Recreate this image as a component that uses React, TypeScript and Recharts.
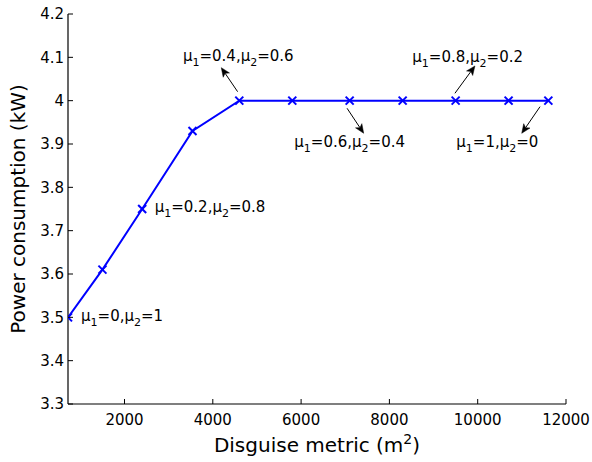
import React from 'react';
import { LineChart, Line, XAxis, YAxis, LabelList } from 'recharts';

const disguiseMetric = [720, 1500, 2400, 3540, 4600, 5800, 7100, 8300, 9500, 10700, 11600];
const powerConsumption = [3.5, 3.61, 3.75, 3.93, 4.0, 4.0, 4.0, 4.0, 4.0, 4.0, 4.0];
const xTicks = [2000, 4000, 6000, 8000, 10000, 12000];
const yTicks = [3.3, 3.4, 3.5, 3.6, 3.7, 3.8, 3.9, 4.0, 4.1, 4.2];
const annotatedPoints = [0, 2, 4, 6, 8, 10];
const mu1Values = ['0', '0.2', '0.4', '0.6', '0.8', '1'];
const mu2Values = ['1', '0.8', '0.6', '0.4', '0.2', '0'];

// style: label offsets relative to the annotated point (pixels)
const annotationLayout = [
  { dx: 13, dy: 3.5, anchor: 'start', arrow: null },
  { dx: 12.5, dy: 3, anchor: 'start', arrow: null },
  { dx: -1, dy: -40, anchor: 'middle', arrow: [-1.7, -9, -18, -33] },
  { dx: 0, dy: 46, anchor: 'middle', arrow: [-2.6, 7.6, 14, 32.6] },
  { dx: 12, dy: -39, anchor: 'middle', arrow: [-0.7, -7.4, 19.3, -34.7] },
  { dx: -51, dy: 46, anchor: 'middle', arrow: [-8.3, 6, -26.6, 32.6] },
];

const data = disguiseMetric.map((x, i) => ({
  x,
  y: powerConsumption[i],
  ann: annotatedPoints.indexOf(i),
}));

const FONT = '"DejaVu Sans", Arial, sans-serif';

const fmtY = (v: number) => String(Number(v.toFixed(1)));

const BottomTick = (p: any) => (
  <g>
    <line x1={p.x} y1={p.y} x2={p.x} y2={p.y - 5} stroke="#000" strokeWidth={1} />
    <text x={p.x} y={p.y + 21} textAnchor="middle" fontFamily={FONT} fontSize={15} fill="#000">
      {p.payload.value}
    </text>
  </g>
);
const TopTick = (p: any) => (
  <line x1={p.x} y1={p.y} x2={p.x} y2={p.y + 5} stroke="#000" strokeWidth={1} />
);
const LeftTick = (p: any) => (
  <g>
    <line x1={p.x} y1={p.y} x2={p.x + 5} y2={p.y} stroke="#000" strokeWidth={1} />
    <text x={p.x - 4} y={p.y} dy="0.36em" textAnchor="end" fontFamily={FONT} fontSize={15} fill="#000">
      {fmtY(p.payload.value)}
    </text>
  </g>
);
const RightTick = (p: any) => (
  <line x1={p.x} y1={p.y} x2={p.x - 5} y2={p.y} stroke="#000" strokeWidth={1} />
);

const XMarker = (p: any) => {
  const { cx, cy } = p;
  if (cx == null || cy == null) return <g />;
  const s = 4;
  return (
    <g>
      <line x1={cx - s} y1={cy - s} x2={cx + s} y2={cy + s} stroke="#0000ff" strokeWidth={2} />
      <line x1={cx - s} y1={cy + s} x2={cx + s} y2={cy - s} stroke="#0000ff" strokeWidth={2} />
    </g>
  );
};

const Arrow = ({ x1, y1, x2, y2 }: any) => {
  const dx = x2 - x1;
  const dy = y2 - y1;
  const len = Math.hypot(dx, dy);
  const ux = dx / len;
  const uy = dy / len;
  const hl = 9;
  const hw = 3.8;
  const bx = x2 - ux * hl;
  const by = y2 - uy * hl;
  const nx = x2 - ux * hl * 0.75;
  const ny = y2 - uy * hl * 0.75;
  const pts = `${x2},${y2} ${bx - uy * hw},${by + ux * hw} ${nx},${ny} ${bx + uy * hw},${by - ux * hw}`;
  return (
    <g>
      <line x1={x1} y1={y1} x2={nx} y2={ny} stroke="#000" strokeWidth={1} />
      <polygon points={pts} fill="#000" stroke="#000" strokeWidth={0.5} />
    </g>
  );
};

const Annotation = (p: any) => {
  const k = Number(p.value);
  if (!(k >= 0) || p.x == null || p.y == null) return null;
  const L = annotationLayout[k];
  const px = Number(p.x);
  const py = Number(p.y);
  return (
    <g>
      {L.arrow && (
        <Arrow x1={px + L.arrow[0]} y1={py + L.arrow[1]} x2={px + L.arrow[2]} y2={py + L.arrow[3]} />
      )}
      <text
        x={px + L.dx}
        y={py + L.dy}
        textAnchor={L.anchor as any}
        fontFamily={FONT}
        fontSize={15}
        fill="#000"
      >
        μ<tspan dy={5} fontSize={11}>1</tspan>
        <tspan dy={-5}>={mu1Values[k]},μ</tspan>
        <tspan dy={5} fontSize={11}>2</tspan>
        <tspan dy={-5}>={mu2Values[k]}</tspan>
      </text>
    </g>
  );
};

const XLabel = (p: any) => {
  const vb = p.viewBox || {};
  return (
    <text
      x={vb.x + vb.width / 2}
      y={vb.y + 48}
      textAnchor="middle"
      fontFamily={FONT}
      fontSize={20}
      fill="#000"
    >
      Disguise metric (m<tspan dy={-8} fontSize={14}>2</tspan>
      <tspan dy={8}>)</tspan>
    </text>
  );
};

const YLabel = (p: any) => {
  const vb = p.viewBox || {};
  const cy = vb.y + vb.height / 2;
  const cx = 25;
  return (
    <text
      x={cx}
      y={cy}
      transform={`rotate(-90 ${cx} ${cy})`}
      textAnchor="middle"
      fontFamily={FONT}
      fontSize={20}
      fill="#000"
    >
      Power consumption (kW)
    </text>
  );
};

export default function App() {
  return (
    <div style={{ position: 'absolute', left: 0, top: 0, width: 592, height: 462, background: '#fff' }}>
      <LineChart width={592} height={462} data={data} margin={{ top: 14, right: 26, bottom: 0, left: 0 }}>
        <XAxis
          dataKey="x"
          type="number"
          domain={[720, 12000]}
          ticks={xTicks}
          interval={0}
          allowDataOverflow
          height={58}
          tickSize={0}
          tickMargin={0}
          tick={<BottomTick />}
          axisLine={{ stroke: '#000', strokeWidth: 1.2 }}
          label={<XLabel />}
        />
        <XAxis
          xAxisId="top"
          orientation="top"
          dataKey="x"
          type="number"
          domain={[720, 12000]}
          ticks={xTicks}
          interval={0}
          allowDataOverflow
          height={0}
          tickSize={0}
          tickMargin={0}
          tick={<TopTick />}
          axisLine={{ stroke: '#000', strokeWidth: 1.2 }}
        />
        <YAxis
          type="number"
          domain={[3.3, 4.2]}
          ticks={yTicks}
          interval={0}
          allowDataOverflow
          width={68}
          tickSize={0}
          tickMargin={0}
          tick={<LeftTick />}
          axisLine={{ stroke: '#000', strokeWidth: 1.2 }}
          label={<YLabel />}
        />
        <YAxis
          yAxisId="right"
          orientation="right"
          type="number"
          domain={[3.3, 4.2]}
          ticks={yTicks}
          interval={0}
          allowDataOverflow
          width={0}
          tickSize={0}
          tickMargin={0}
          tick={<RightTick />}
          axisLine={{ stroke: '#000', strokeWidth: 1.2 }}
        />
        <Line
          dataKey="y"
          stroke="#0000ff"
          strokeWidth={2}
          dot={<XMarker />}
          activeDot={false}
          isAnimationActive={false}
        >
          <LabelList dataKey="ann" content={<Annotation />} />
        </Line>
      </LineChart>
    </div>
  );
}
